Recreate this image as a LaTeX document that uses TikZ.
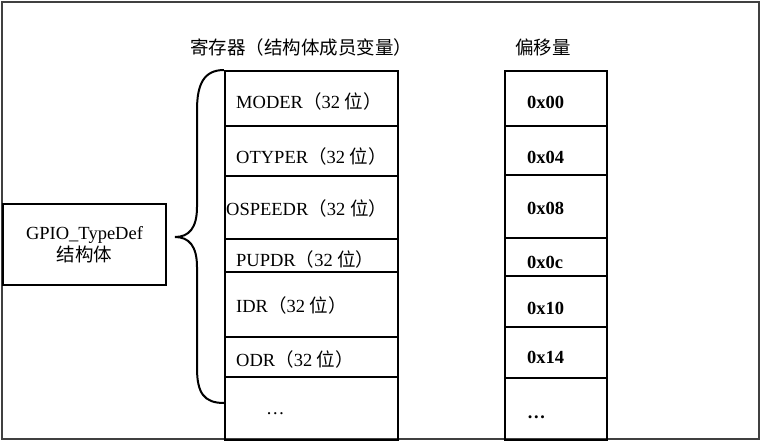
\documentclass[tikz,border=0pt]{standalone}
\usepackage{fontspec}
\setmainfont{Liberation Serif}
\newfontfamily\cjk{Noto Sans CJK SC}
\newcommand\zh[1]{{\cjk #1}}
\newcommand\txt{\fontsize{18.5}{22}\selectfont}
\newcommand\bits{\zh{（}32 \zh{位）}}
\tikzset{cell/.style={draw, line width=2pt, anchor=north west, inner sep=0pt},
	reglabel/.style={anchor=base west, inner sep=0pt, font=\txt},
	offlabel/.style={anchor=base west, inner sep=0pt, font=\txt\bfseries}}

\begin{document}
\begin{tikzpicture}[x=1pt,y=-1pt]
		\useasboundingbox (0,0) rectangle (764,442);
		\draw[line width=1.5pt, black!75] (2,2) rectangle (759,439);
		% headers
		\node[font=\txt, inner sep=0pt] (regtitle) at (301,47) {\zh{寄存器（结构体成员变量）}};
		\node[font=\txt, inner sep=0pt] (offtitle) at (543,47) {\zh{偏移量}};
		% register column
		\foreach \t/\b/\lx/\ly/\lab [count=\i] in {70/125/236/108/MODER\bits,
			125/175/236/163/OTYPER\bits, 175/238/226/215/OSPEEDR\bits,
			238/271/236/266/PUPDR\bits, 271/336/236/312/IDR\bits,
			336/376/236/366/ODR\bits, 376/439/266/414/…}
		{
			\node[cell, minimum width=173pt, minimum height={(\b-\t)*1pt}] (reg\i) at (224,\t) {};
			\node[reglabel] (regtext\i) at (\lx,\ly) {\lab};
		}
		% offset column
		\foreach \t/\b/\ly/\lab [count=\i] in {70/125/108/0x00, 125/174/163/0x04,
			174/237/214/0x08, 237/275/268/0x0c, 275/326/314/0x10,
			326/377/363/0x14, 377/439/418/…}
		{
			\node[cell, minimum width=102pt, minimum height={(\b-\t)*1pt}] (off\i) at (504,\t) {};
			\node[offlabel] (offtext\i) at (527,\ly) {\lab};
		}
		% struct box and brace
		\node[draw, line width=2pt, minimum width=163pt, minimum height=81pt, align=center, font=\txt]
			(gpio) at (84.5,244.5) {GPIO\_TypeDef\\\zh{结构体}};
		\coordinate (bracetip) at (175,237);
		\coordinate (braceend) at (224,403);
		\draw[line width=2pt] (reg1.north west) .. controls (204,70) and (197,84) .. (197,110)
			-- (197,207) .. controls (197,228) and (189,237) .. (bracetip)
			.. controls (189,237) and (197,246) .. (197,267)
			-- (197,368) .. controls (197,393) and (204,403) .. (braceend);
		\end{tikzpicture}
\end{document}
